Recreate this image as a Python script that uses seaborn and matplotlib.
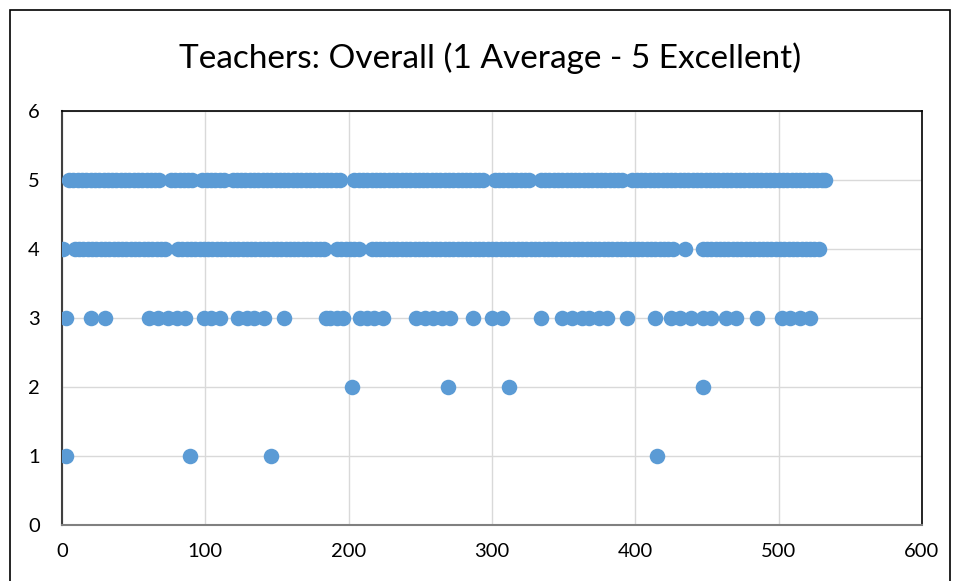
import matplotlib
matplotlib.use("Agg")
import matplotlib.pyplot as plt
import matplotlib.patches as patches
import numpy as np
import pandas as pd
import seaborn as sns

BLUE = "#5B9BD5"
GRID = "#D9D9D9"

# response index for each rating level
x_rating5 = [5, 8, 11, 14, 17, 20, 23, 26, 29, 32, 35, 38, 41, 44, 47, 50, 53, 56, 59, 62, 65, 68,
             76, 79, 82, 85, 88, 91,
             98, 101, 104, 107, 110, 113,
             119, 122, 125, 128, 131, 134, 137, 140, 143, 146, 149, 152, 155, 158, 161, 164, 167,
             170, 173, 176, 179, 182, 185, 188, 191, 194,
             204, 207, 210, 213, 216, 219, 222, 225, 228, 231, 234, 237, 240, 243, 246, 249, 252,
             255, 258, 261, 264, 267, 270, 273, 276, 279, 282, 285, 288, 291, 294,
             302, 305, 308, 311, 314, 317, 320, 323, 326,
             334, 337, 340, 343, 346, 349, 352, 355, 358, 361, 364, 367, 370, 373, 376, 379, 382,
             385, 388, 391,
             398, 401, 404, 407, 410, 413, 416, 419, 422, 425, 428, 431, 434, 437, 440, 443, 446,
             449, 452, 455, 458, 461, 464, 467, 470, 473, 476, 479, 482, 485, 488, 491, 494, 497,
             500, 503, 506, 509, 512, 515, 518, 521, 524, 527, 530, 532]
x_rating4 = [1,
             9, 12, 15, 18, 21, 24, 27, 30, 33, 36, 39, 42, 45, 48, 51, 54, 57, 60, 63, 66, 69, 72,
             81, 84, 87, 90, 93, 96, 99, 102, 105, 108, 111, 114, 117, 120, 123, 126, 129, 132,
             135, 138, 141, 144, 147, 150, 153, 156, 159, 162, 165, 168, 171, 174, 177, 180, 183,
             192, 195, 198, 201, 204, 207,
             216, 219, 222, 225, 228, 231, 234, 237, 240, 243, 246, 249, 252, 255, 258, 261, 264,
             267, 270, 273, 276, 279, 282, 285, 288, 291, 294, 297, 300, 303, 306, 309, 312, 315,
             318, 321, 324, 327, 330, 333, 336, 339, 342, 345, 348, 351, 354, 357, 360, 363, 366,
             369, 372, 375, 378, 381, 384, 387, 390, 393, 396, 399, 402, 405, 408, 411, 414, 417,
             420, 423, 426,
             435,
             447, 450, 453, 456, 459, 462, 465, 468, 471, 474, 477, 480, 483, 486, 489, 492, 495,
             498, 501, 504, 507, 510, 513, 516, 519, 522, 525, 528]
x_rating3 = [3, 20, 30, 61, 67, 74, 80, 86, 99, 104, 110, 123, 129, 134, 141, 155, 184,
             187, 192, 196, 208, 213, 218, 224, 247, 253, 259, 265, 271, 287, 300, 307, 334,
             349, 356, 363, 368, 375, 380, 394, 414, 425, 431, 439, 447, 453, 463, 470, 485,
             502, 508, 515, 522]
x_rating2 = [202, 269, 312, 447]
x_rating1 = [3, 89, 146, 415]

x_ticks = [0, 100, 200, 300, 400, 500, 600]
y_ticks = [0, 1, 2, 3, 4, 5, 6]

df = pd.DataFrame({
    "respondent": x_rating5 + x_rating4 + x_rating3 + x_rating2 + x_rating1,
    "rating": [5] * len(x_rating5) + [4] * len(x_rating4) + [3] * len(x_rating3)
              + [2] * len(x_rating2) + [1] * len(x_rating1),
})

sns.set_theme(style="white")
plt.rcParams["font.family"] = ["Lato", "DejaVu Sans"]

fig = plt.figure(figsize=(9.58, 5.81), dpi=100)
ax = fig.add_axes([0.0647, 0.0964, 0.8977, 0.7126])

sns.scatterplot(data=df, x="respondent", y="rating", ax=ax, color=BLUE,
                s=125, linewidth=0, alpha=1, zorder=3)

ax.set_xlim(0, 600)
ax.set_ylim(0, 6)
ax.set_xticks(x_ticks)
ax.set_yticks(y_ticks)
ax.tick_params(axis="both", labelsize=14.5, colors="black", length=0)
ax.tick_params(axis="x", pad=13)
ax.tick_params(axis="y", pad=16)
ax.set_xlabel("")
ax.set_ylabel("")
ax.grid(True, color=GRID, linewidth=1, zorder=0)
ax.set_axisbelow(True)

for side in ["top", "right"]:
    ax.spines[side].set_color("black")
    ax.spines[side].set_linewidth(1.2)
ax.spines["left"].set_color("#404040")
ax.spines["left"].set_linewidth(1.5)
ax.spines["bottom"].set_color("#808080")
ax.spines["bottom"].set_linewidth(1.5)

fig.text(0.512, 0.90, "Teachers: Overall (1 Average - 5 Excellent)", ha="center",
         va="center", fontsize=24, color="black")

# outer chart border
border = patches.Rectangle((10 / 958, -0.05), 940 / 958, 1 - 10 / 581 + 0.05,
                           transform=fig.transFigure, fill=False,
                           edgecolor="black", linewidth=1.2)
fig.patches.append(border)

fig.savefig("out.png", dpi=100)
plt.close(fig)
